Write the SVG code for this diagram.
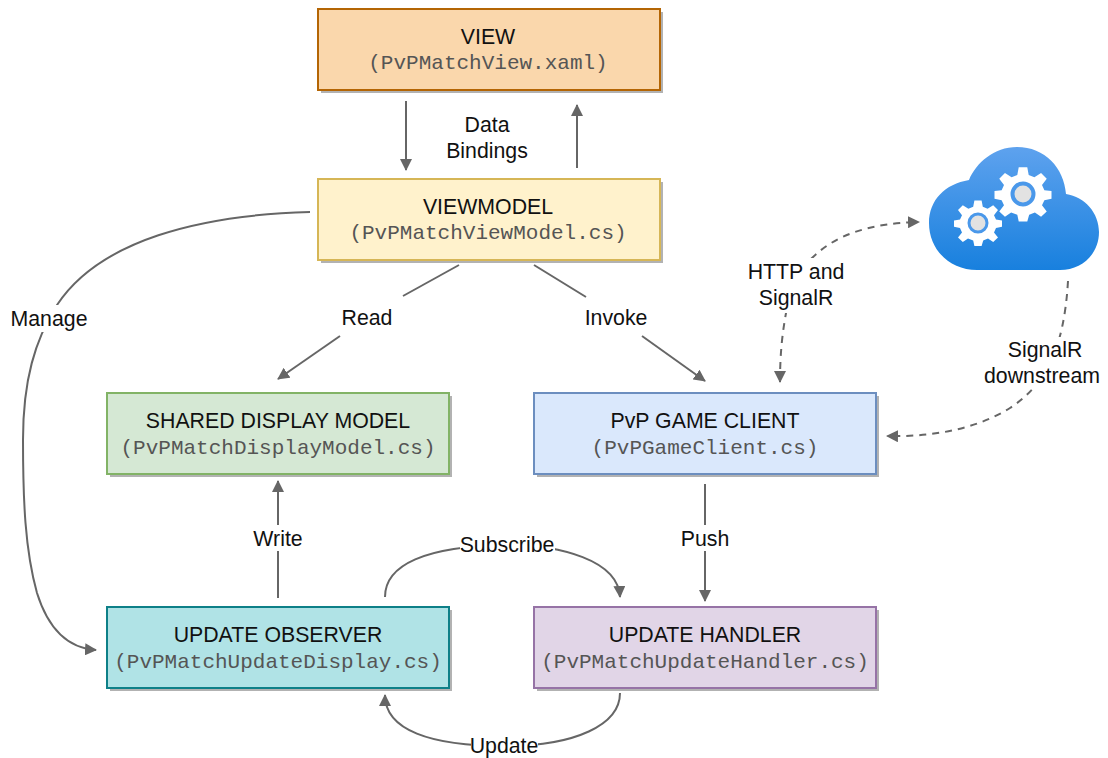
<svg xmlns="http://www.w3.org/2000/svg" width="1108" height="758" viewBox="0 0 1108 758">
<style>
.box{stroke-width:2}
.shadow{fill:#000;opacity:.3}
.t{font-family:"Liberation Sans",Arial,sans-serif;font-size:21.3px;fill:#111;text-anchor:middle}
.m{font-family:"Liberation Mono","Courier New",monospace;font-size:21px;fill:#555;text-anchor:middle}
.c{fill:none;stroke:#666;stroke-width:2}
.d{stroke-dasharray:7 6}
</style>
<defs>
<marker id="a" viewBox="0 0 12 12" refX="11" refY="6" markerWidth="12" markerHeight="12" markerUnits="userSpaceOnUse" orient="auto-start-reverse"><path d="M0 0L12 6L0 12Z" fill="#666"/></marker>
<linearGradient id="cg" x1="0" y1="0" x2="0" y2="1"><stop offset="0" stop-color="#5ea2ee"/><stop offset="1" stop-color="#1880de"/></linearGradient>
<g id="gear"><path d="M-4.5 -27L4.5 -27L6 -19L12 -16.500L19 -21L25 -15L20 -8.500L22.500 -3L30 -2L30 6L22.500 7.500L20 13L25 19.500L19 25L12.500 20.500L6.500 23L4.500 30L-4.500 30L-6 23L-12.500 20.500L-19 25L-25 19.500L-20 13L-22.500 7.500L-30 6L-30 -2L-22.500 -3L-20 -8.500L-25 -15L-19 -21L-12 -16.500L-6 -19Z" fill="#fff"/></g>
</defs>
<g id="connectors">
<path class="c" marker-end="url(#a)" d="M406 101V170"/>
<path class="c" marker-end="url(#a)" d="M577 168V105"/>
<path class="c" d="M459 265L403 296"/>
<path class="c" marker-end="url(#a)" d="M340 336L278 379"/>
<path class="c" d="M534 265L586 297"/>
<path class="c" marker-end="url(#a)" d="M642 336L705 381"/>
<path class="c" marker-end="url(#a)" d="M278 598V481"/>
<path class="c" marker-end="url(#a)" d="M705 484V601"/>
<path class="c" marker-end="url(#a)" d="M310 212C200 215 100 240 57 305C35 340 23 380 23 440C23 500 25 550 37 593C47 625 65 648 96 650"/>
<path class="c" marker-end="url(#a)" d="M385 597C385 565 425 546 507 545C560 545 618 560 620 597"/>
<path class="c" marker-end="url(#a)" d="M620 693C620 725 575 746 505 746C430 746 385 730 385 695"/>
<path class="c d" marker-start="url(#a)" marker-end="url(#a)" d="M780 382C780 350 783 330 786 313C792 285 800 270 812 258C835 235 870 223 919 222"/>
<path class="c d" marker-end="url(#a)" d="M1068 281C1064 350 1045 385 1010 408C975 430 930 437 887 436"/>
</g>
<g id="view"><rect class="shadow" x="321" y="12" width="342" height="81"/><rect class="box" x="318" y="9" width="342" height="81" fill="#fad7ac" stroke="#b46504"/><text class="t" x="488" y="43.500">VIEW</text><text class="m" x="488" y="69">(PvPMatchView.xaml)</text></g>
<g id="viewmodel"><rect class="shadow" x="321" y="182" width="342" height="81"/><rect class="box" x="318" y="179" width="342" height="81" fill="#fff2cc" stroke="#d6b656"/><text class="t" x="488" y="213.500">VIEWMODEL</text><text class="m" x="488" y="239">(PvPMatchViewModel.cs)</text></g>
<g id="shared-display-model"><rect class="shadow" x="110" y="396" width="342" height="81"/><rect class="box" x="107" y="393" width="342" height="81" fill="#d5e8d4" stroke="#82b366"/><text class="t" x="278" y="427.500">SHARED DISPLAY MODEL</text><text class="m" x="278" y="454">(PvPMatchDisplayModel.cs)</text></g>
<g id="game-client"><rect class="shadow" x="537" y="396" width="342" height="81"/><rect class="box" x="534" y="393" width="342" height="81" fill="#dae8fc" stroke="#6c8ebf"/><text class="t" x="705" y="427.500">PvP GAME CLIENT</text><text class="m" x="705" y="454">(PvPGameClient.cs)</text></g>
<g id="update-observer"><rect class="shadow" x="110" y="610" width="342" height="81"/><rect class="box" x="107" y="607" width="342" height="81" fill="#b0e3e6" stroke="#0e8088"/><text class="t" x="278" y="641.500">UPDATE OBSERVER</text><text class="m" x="278" y="668">(PvPMatchUpdateDisplay.cs)</text></g>
<g id="update-handler"><rect class="shadow" x="537" y="610" width="342" height="81"/><rect class="box" x="534" y="607" width="342" height="81" fill="#e1d5e7" stroke="#9673a6"/><text class="t" x="705" y="641.500">UPDATE HANDLER</text><text class="m" x="705" y="668">(PvPMatchUpdateHandler.cs)</text></g>
<g id="cloud">
<path d="M977 270C950 270 929 250 929 223C929 200 945 184 969 180C976 163 994 147 1017 147C1045 147 1064 168 1066 194C1085 197 1099 213 1099 232C1099 254 1082 270 1060 270Z" fill="url(#cg)"/>
<use href="#gear" transform="translate(1023 193) scale(.95)"/><circle cx="1023" cy="194" r="10.500" fill="#e2e2e2" stroke="#4a98ea" stroke-width="4"/>
<use href="#gear" transform="translate(978 222) scale(.8)"/><circle cx="978" cy="223" r="9" fill="#e2e2e2" stroke="#4a98ea" stroke-width="3"/>
</g>
<g id="labels">
<text class="t" x="487" y="132">Data</text><text class="t" x="487" y="157.500">Bindings</text>
<rect x="339" y="304" width="56" height="26" fill="#fff"/><text class="t" x="367" y="324.500">Read</text>
<rect x="583" y="304" width="66" height="26" fill="#fff"/><text class="t" x="616" y="324.500">Invoke</text>
<rect x="8" y="305" width="82" height="27" fill="#fff"/><text class="t" x="49" y="325.500">Manage</text>
<rect x="252" y="525" width="52" height="26" fill="#fff"/><text class="t" x="278" y="545.500">Write</text>
<rect x="680" y="525" width="50" height="26" fill="#fff"/><text class="t" x="705" y="545.500">Push</text>
<rect x="460" y="534" width="95" height="22" fill="#fff"/><text class="t" x="507" y="552">Subscribe</text>
<rect x="471" y="735" width="67" height="22" fill="#fff"/><text class="t" x="504" y="753">Update</text>
<rect x="748" y="258" width="97" height="55" fill="#fff"/><text class="t" x="796" y="278.500">HTTP and</text><text class="t" x="796" y="304.500">SignalR</text>
<rect x="984" y="337" width="116" height="52" fill="#fff"/><text class="t" x="1045" y="356.500">SignalR</text><text class="t" x="1042" y="382.500">downstream</text>
</g>
</svg>
